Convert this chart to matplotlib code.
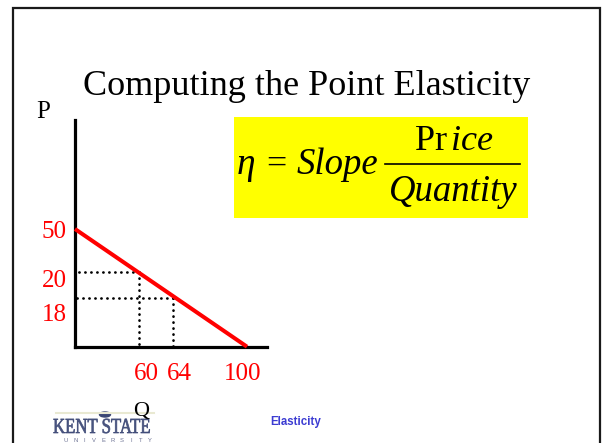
import numpy as np
import matplotlib
matplotlib.use("Agg")
import matplotlib.pyplot as plt
from matplotlib.patches import Rectangle, PathPatch, Ellipse
from matplotlib.textpath import TextPath
from matplotlib.font_manager import FontProperties
from matplotlib.transforms import Affine2D

plt.rcParams['font.family'] = ['Liberation Serif', 'DejaVu Serif']
plt.rcParams['mathtext.fontset'] = 'custom'
plt.rcParams['mathtext.rm'] = 'Liberation Serif'
plt.rcParams['mathtext.it'] = 'Liberation Serif:italic'

# demand line endpoints (Q, P)
demand_q = [0, 100]
demand_p = [50, 0]
# the two points marked on the curve
point_q = [60, 64]
point_p = [20, 18]
# labels on the axes
x_labels = ["60", "64", "100"]
x_label_vals = [60, 64, 100]
y_labels = ["50", "20", "18"]
y_label_vals = [50, 20, 18]

title = "Computing the Point Elasticity"
footer = "Elasticity"

# the slide drawing is not to scale: pixel positions of the values
q_knots = [0, 60, 64, 100]
q_pix = [75, 139, 173.3, 247]
p_knots = [0, 18, 20, 50]
p_pix = [96.3, 145.3, 170.7, 214]   # height from the bottom of the image


def piecewise(vals, pos):
    vals = np.asarray(vals, float)
    pos = np.asarray(pos, float)

    def _map(v, a, b):
        v = np.asarray(v, float)
        lo = b[0] + (v - a[0]) * (b[1] - b[0]) / (a[1] - a[0])
        hi = b[-1] + (v - a[-1]) * (b[-1] - b[-2]) / (a[-1] - a[-2])
        return np.where(v < a[0], lo, np.where(v > a[-1], hi, np.interp(v, a, b)))

    return (lambda v: _map(v, vals, pos)), (lambda p: _map(p, pos, vals))


W, H = 605, 443
fig = plt.figure(figsize=(W / 100, H / 100), dpi=100)

# background layer in pixel units
bg = fig.add_axes([0, 0, 1, 1])
bg.set_xlim(0, W)
bg.set_ylim(H, 0)
bg.axis("off")

# slide frame
bg.plot([13, 13, 600, 600], [H, 8, 8, H], color="#1a1a1a", lw=1.6,
        solid_joinstyle="miter")

bg.text(307, 95, title, fontsize=26, ha="center", va="baseline")
bg.text(36, 118, "P", fontsize=18, ha="left", va="baseline")
bg.text(141, 416, "Q", fontsize=16, ha="center", va="baseline", zorder=5)

# formula box
bg.add_patch(Rectangle((234, 116.5), 294, 101.5, color="#ffff00", lw=0))
bg.text(237, 174, "η", fontsize=27, style="italic", ha="left", va="baseline")
bg.text(276, 174, "=", fontsize=26, ha="center", va="baseline")
bg.text(297, 174, "Slope", fontsize=26.5, style="italic", ha="left", va="baseline")
bg.plot([385, 520], [164, 164], color="black", lw=1.2)
bg.text(454, 149.5, r"$\mathrm{Pr}\,ice$", fontsize=26, ha="center", va="baseline")
bg.text(453.5, 200.5, "Quantity", fontsize=26.5, style="italic", ha="center", va="baseline")

bg.text(296, 425, footer, fontsize=8.3, fontweight="bold", color="#3c3cd2",
        family=["Liberation Sans", "DejaVu Sans"], ha="center", va="baseline")

# Kent State logo (approximation)
bg.plot([56, 154], [413, 413], color="#e9e9d2", lw=1.5)
bg.add_patch(Ellipse((105, 414.5), 11, 5, color="#3b4775"))
kent = TextPath((0, 0), "KENT STATE", size=21.5,
                prop=FontProperties(family="Liberation Serif"))
tr = Affine2D().scale(0.78, -1).translate(53, 433) + bg.transData
bg.add_patch(PathPatch(kent, transform=tr, fc="#3b4775", ec="#3b4775", lw=0.5,
                       alpha=0.92))
for i, ch in enumerate("UNIVERSITY"):
    bg.text(66 + i * 9.3, 441.5, ch, fontsize=4.2, color="#6d7394",
            family=["Liberation Sans", "DejaVu Sans"], ha="center", va="baseline")

# the demand diagram
ax_l, ax_r, ax_t, ax_b = 75, 267, 120, 346.7
ax = fig.add_axes([ax_l / W, (H - ax_b) / H, (ax_r - ax_l) / W, (ax_b - ax_t) / H])
ax.patch.set_alpha(0)
fx, ix = piecewise(q_knots, q_pix)
fy, iy = piecewise(p_knots, p_pix)
ax.set_xscale("function", functions=(fx, ix))
ax.set_yscale("function", functions=(fy, iy))
ax.set_xlim(float(ix(ax_l)), float(ix(ax_r)))
ax.set_ylim(float(iy(H - ax_b)), float(iy(H - ax_t)))
ax.set_xticks([])
ax.set_yticks([])
ax.xaxis.set_minor_locator(plt.NullLocator())
ax.yaxis.set_minor_locator(plt.NullLocator())
for s in ["top", "right"]:
    ax.spines[s].set_visible(False)
for s in ["left", "bottom"]:
    ax.spines[s].set_linewidth(2.3)
    ax.spines[s].set_capstyle("projecting")

for q, p in zip(point_q, point_p):
    for xs, ys in [([q, 0], [p, p]), ([q, q], [p, 0])]:
        ax.plot(xs, ys, color="black", lw=1.9, linestyle=(0, (0.1, 2.17)),
                dash_capstyle="round", clip_on=False, zorder=2)

ax.plot(demand_q, demand_p, color="#ff0000", lw=2.9, solid_capstyle="butt",
        clip_on=False, zorder=3)

# value labels (the slide places them a little off the guide lines)
x_shift = [7.7, 5.7, -4]
for lab, v, dx in zip(x_labels, x_label_vals, x_shift):
    ax.annotate(lab, xy=(v, 0), xytext=(dx, -33.3), textcoords="offset pixels",
                ha="center", va="baseline", fontsize=18, color="#ff0000",
                annotation_clip=False)
y_shift = [-9, -15, -23.3]
for lab, v, dy in zip(y_labels, y_label_vals, y_shift):
    ax.annotate(lab, xy=(0, v), xytext=(-8.3, dy), textcoords="offset pixels",
                ha="right", va="baseline", fontsize=18, color="#ff0000",
                annotation_clip=False)

fig.savefig("out.png", dpi=100)
